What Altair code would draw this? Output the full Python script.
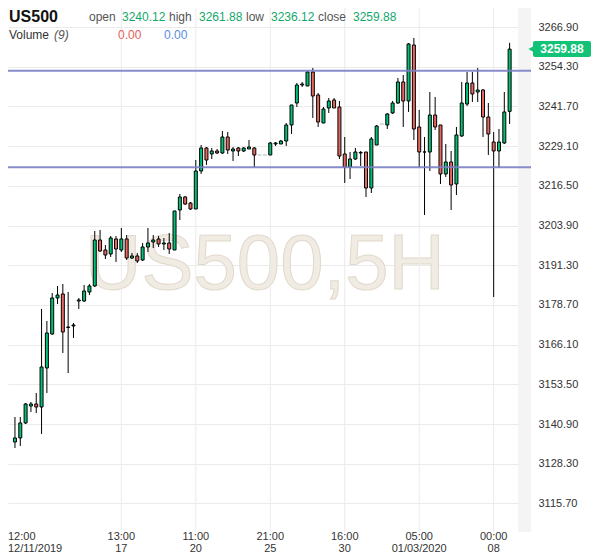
import altair as alt
import pandas as pd
import numpy as np

# ---- candle data ----
opens = [3135.20, 3136.47, 3141.23, 3146.62, 3147.26, 3146.30, 3158.68, 3169.47, 3180.90, 3182.17,
         3171.69, 3172.01, 3179.94, 3179.94, 3182.80, 3184.71, 3199.30, 3196.13, 3194.86, 3199.62,
         3196.13, 3199.62, 3193.59, 3194.23, 3192.96, 3197.08, 3198.67, 3199.62, 3198.03, 3198.35,
         3196.13, 3208.82, 3212.95, 3211.05, 3209.14, 3221.20, 3228.50, 3226.60, 3227.55, 3226.91,
         3231.99, 3227.55, 3228.50, 3227.55, 3228.18, 3228.50, 3226.28, 3226.28, 3226.28, 3229.77,
         3229.77, 3230.72, 3235.80, 3242.78, 3248.49, 3248.18, 3252.62, 3245.32, 3236.43, 3241.20,
         3243.73, 3241.51, 3226.60, 3222.47, 3225.01, 3226.91, 3227.23, 3215.81, 3229.45, 3236.12,
         3235.80, 3239.61, 3242.78, 3249.45, 3243.42, 3261.19, 3235.17, 3227.23, 3227.23, 3238.97,
         3235.80, 3220.25, 3224.06, 3217.08, 3232.31, 3242.46, 3249.13, 3246.27, 3246.91, 3238.34,
         3230.40, 3227.55, 3230.09, 3240.12]
highs = [3143.13, 3143.13, 3147.57, 3147.89, 3150.75, 3177.41, 3173.60, 3182.48, 3184.71, 3185.34,
         3182.80, 3172.96, 3180.90, 3185.02, 3185.34, 3202.16, 3202.48, 3197.72, 3200.57, 3200.57,
         3203.11, 3200.89, 3195.18, 3195.18, 3198.35, 3203.11, 3200.89, 3200.57, 3199.94, 3201.53,
         3208.51, 3213.90, 3213.27, 3211.36, 3224.69, 3229.45, 3228.82, 3228.50, 3228.18, 3233.90,
         3233.58, 3228.82, 3228.82, 3228.82, 3231.04, 3228.82, 3226.28, 3226.28, 3230.40, 3230.40,
         3231.04, 3236.43, 3242.15, 3249.13, 3249.45, 3252.94, 3253.89, 3245.96, 3241.51, 3244.37,
         3244.37, 3243.42, 3231.99, 3227.23, 3228.50, 3227.55, 3227.23, 3231.99, 3235.80, 3236.12,
         3239.61, 3243.42, 3250.72, 3251.67, 3261.82, 3263.41, 3240.56, 3231.99, 3246.27, 3244.69,
         3235.80, 3229.77, 3227.55, 3235.17, 3249.45, 3252.62, 3252.62, 3253.89, 3247.23, 3242.78,
         3233.58, 3234.53, 3246.27, 3261.88]
lows = [3133.29, 3133.93, 3140.90, 3144.72, 3144.40, 3137.74, 3150.75, 3169.20, 3178.99, 3163.44,
        3157.09, 3168.20, 3177.41, 3179.63, 3181.85, 3184.39, 3195.50, 3193.27, 3193.91, 3192.32,
        3195.50, 3192.96, 3193.27, 3192.00, 3192.64, 3195.50, 3196.76, 3197.08, 3196.13, 3194.86,
        3196.13, 3205.65, 3210.41, 3208.82, 3209.14, 3220.25, 3223.11, 3225.01, 3226.60, 3226.60,
        3226.60, 3224.38, 3225.96, 3227.23, 3228.18, 3222.47, 3226.28, 3226.28, 3226.28, 3229.14,
        3229.77, 3229.14, 3232.94, 3241.51, 3247.86, 3248.18, 3238.02, 3235.17, 3236.43, 3239.61,
        3241.20, 3225.01, 3217.39, 3218.66, 3224.69, 3222.79, 3212.95, 3214.22, 3229.45, 3236.12,
        3234.53, 3239.29, 3242.46, 3235.17, 3239.93, 3231.04, 3222.47, 3207.24, 3221.20, 3234.21,
        3217.08, 3219.30, 3208.82, 3213.58, 3231.99, 3241.83, 3243.10, 3243.10, 3231.99, 3226.28,
        3181.21, 3222.15, 3229.77, 3236.12]
closes = [3136.47, 3141.23, 3147.26, 3147.26, 3146.30, 3159.00, 3169.79, 3180.90, 3181.85, 3170.11,
          3171.53, 3172.33, 3180.26, 3183.12, 3184.71, 3199.30, 3195.81, 3194.54, 3199.94, 3196.45,
          3199.62, 3193.59, 3194.23, 3192.64, 3197.08, 3198.35, 3199.30, 3198.03, 3198.35, 3196.45,
          3208.51, 3212.95, 3210.73, 3209.14, 3221.20, 3228.50, 3224.69, 3227.55, 3226.91, 3231.99,
          3227.87, 3228.18, 3227.55, 3228.50, 3228.82, 3226.28, 3226.28, 3226.28, 3230.09, 3230.09,
          3230.72, 3235.80, 3242.15, 3248.49, 3248.81, 3252.62, 3245.00, 3236.75, 3240.88, 3243.42,
          3241.20, 3225.96, 3222.47, 3225.01, 3227.23, 3227.10, 3215.81, 3231.36, 3235.48, 3236.12,
          3239.29, 3242.78, 3249.45, 3243.42, 3261.51, 3234.53, 3227.23, 3227.23, 3238.97, 3235.17,
          3220.25, 3224.06, 3216.76, 3232.63, 3242.78, 3249.13, 3245.64, 3246.91, 3238.34, 3232.94,
          3227.55, 3230.40, 3239.93, 3259.88]

level_values = [3253.03, 3222.37]

y_ticks = [3115.70, 3128.30, 3140.90, 3153.50, 3166.10, 3178.70, 3191.30,
           3203.90, 3216.50, 3229.10, 3241.70, 3254.30, 3266.90]

time_idx = [20, 34, 48, 62, 76, 90]
time_hours = ["13:00", "11:00", "21:00", "16:00", "05:00", "00:00"]
time_days = ["17", "20", "25", "30", "01/03/2020", "08"]
first_label = "12:00\n12/11/2019"

# ---- layout ----
W, H = 523, 524
X_DOM = [-0.37, 96.08]
Y_DOM = [3106.63, 3272.93]
FONT = "Liberation Sans"
GREEN = "#00c176"
RED = "#e8675f"

xs = alt.Scale(domain=X_DOM, nice=False, zero=False)
ys = alt.Scale(domain=Y_DOM, nice=False, zero=False)
yaxis = alt.Axis(orient="right", values=y_ticks, format=".2f", grid=True,
                 gridColor="#ebebeb", gridWidth=1, domain=False, ticks=False,
                 labelPadding=7, labelFontSize=11, labelColor="#333333",
                 labelFont=FONT, title=None)


def X(f):
    return alt.X(f, type="quantitative", scale=xs, axis=None)


def Y(f):
    return alt.Y(f, type="quantitative", scale=ys, axis=yaxis)


df = pd.DataFrame({"i": np.arange(len(opens)), "open": opens, "high": highs,
                   "low": lows, "close": closes})
df["dir"] = np.where(df["close"] >= df["open"], "up", "down")
flat = df["high"] == df["low"]
cdf = df[~flat]
fdf = df[flat]
last = df.tail(1)

tdf = pd.DataFrame({"i": time_idx,
                    "label": [h + "\n" + d for h, d in zip(time_hours, time_days)]})
ldf = pd.DataFrame({"level": level_values})
one = pd.DataFrame({"a": [0]})

hatch_px = (93.7 - X_DOM[0]) * W / (X_DOM[1] - X_DOM[0])

hatch = alt.Chart(one).mark_rect(fill="#f4f4f4").encode(
    x=alt.value(hatch_px), x2=alt.value(W), y=alt.value(0), y2=alt.value(H))

watermark = alt.Chart(one).mark_text(
    text="US500,5H", fontSize=78, font=FONT, color="#f0ebe3", stroke="#e2d9cc",
    strokeWidth=1, align="center", baseline="alphabetic").encode(
    x=alt.value(257), y=alt.value(281))

vgrid = alt.Chart(tdf).mark_rule(color="#ebebeb", strokeWidth=1).encode(
    x=X("i"), y=alt.value(0), y2=alt.value(H))

wicks = alt.Chart(cdf).mark_rule(color="#000000", strokeWidth=1).encode(
    x=X("i"), y=Y("low"), y2=alt.Y2("high"))

bodies = alt.Chart(cdf).mark_bar(width=3, stroke="#000000", strokeWidth=1).encode(
    x=X("i"), y=Y("open"), y2=alt.Y2("close"),
    color=alt.Color("dir:N", scale=alt.Scale(domain=["up", "down"], range=[GREEN, RED]),
                    legend=None))

flats = alt.Chart(fdf).mark_tick(orient="horizontal", size=4, thickness=1,
                                 color="#999999").encode(x=X("i"), y=Y("close"))

levels = alt.Chart(ldf).mark_rule(color="#7b7fc4", strokeWidth=2, opacity=0.9).encode(
    y=Y("level"), x=alt.value(0), x2=alt.value(W))

tlabels = alt.Chart(tdf).mark_text(
    fontSize=11, font=FONT, color="#333333", lineBreak="\n", lineHeight=12,
    baseline="top", align="center").encode(x=X("i"), y=alt.value(H - 1), text="label:N")

flabel = alt.Chart(one).mark_text(
    text=first_label, fontSize=11, font=FONT, color="#333333", lineBreak="\n",
    lineHeight=12, baseline="top", align="left").encode(x=alt.value(0), y=alt.value(H - 1))


def txt(s, x, y, size=12, color="#555555", weight="normal", style="normal"):
    return alt.Chart(one).mark_text(
        text=s, fontSize=size, color=color, fontWeight=weight, fontStyle=style,
        align="left", baseline="middle", font=FONT).encode(x=alt.value(x), y=alt.value(y))


NUM = "#14a76c"
r1, r2 = 9, 27
header = [
    txt("US500", 1, r1, size=16, color="#111111", weight="bold"),
    txt("open", 81, r1), txt(f"{opens[-1]:.2f}", 114, r1, color=NUM),
    txt("high", 161, r1), txt(f"{highs[-1]:.2f}", 191, r1, color=NUM),
    txt("low", 238, r1), txt(f"{lows[-1]:.2f}", 263, r1, color=NUM),
    txt("close", 310, r1), txt(f"{closes[-1]:.2f}", 345, r1, color=NUM),
    txt("Volume", 1, r2, color="#333333"), txt("(9)", 46, r2, style="italic"),
    txt("0.00", 110, r2, color="#e5605c"), txt("0.00", 156, r2, color="#5a8de6"),
]

tag_box = alt.Chart(last).mark_tick(orient="horizontal", size=58, thickness=16,
                                    color="#12c277", cornerRadius=2, opacity=1).encode(
    x=alt.value(W + 31), y=Y("close"))
tag_tip = alt.Chart(last).mark_point(shape="triangle-left", filled=True, size=70,
                                     color="#12c277", opacity=1).encode(
    x=alt.value(W + 1), y=Y("close"))
tag_txt = alt.Chart(last).mark_text(color="white", fontWeight="bold", fontSize=12,
                                    font=FONT, align="center", baseline="middle").encode(
    x=alt.value(W + 31), y=Y("close"), text=alt.Text("close:Q", format=".2f"))

chart = alt.layer(
    hatch, watermark, vgrid, wicks, bodies, flats, levels, tlabels, flabel,
    *header, tag_box, tag_tip, tag_txt
).properties(
    width=W, height=H,
    autosize=alt.AutoSizeParams(type="none"),
    padding={"left": 0, "top": 0, "right": 60, "bottom": 26},
).configure_view(stroke=None)

chart.save("out.html", embed_options={"renderer": "svg", "actions": False})
